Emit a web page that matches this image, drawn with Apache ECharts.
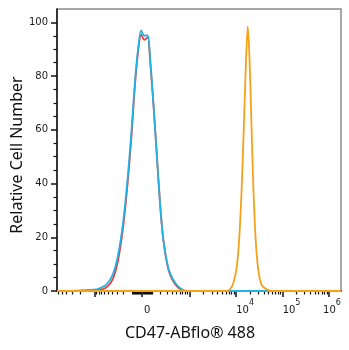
<!DOCTYPE html>
<html>
<head>
<meta charset="utf-8">
<script src="https://cdn.jsdelivr.net/npm/echarts@6/dist/echarts.min.js"></script>
<style>
  html, body { margin: 0; padding: 0; background: #fff; }
  #chart { width: 349px; height: 350px; }
</style>
</head>
<body>
<div id="chart"></div>
<script>
// Biexponential display scale: position = asinh(v / W) / ln(10)
const BIEX_W = 190;
function biex(v) { return Math.asinh(v / BIEX_W) / Math.LN10; }

// Axis range in display units
const X_MIN = -1.83;
const X_MAX = 4.28;
const Y_MIN = 0;
const Y_MAX = 105;

// Histogram traces: bin positions (display units) and relative counts
const isotypeX = [-1.83, -0.974, -0.759, -0.617, -0.510, -0.402, -0.295, -0.222, -0.151, -0.080, -0.022, 0.049, 0.123, 0.172, 0.243, 0.316, 0.387, 0.458, 0.566, 0.673, 0.781, 0.88, 0.94, 4.28];
const isotypeY = [0, 0.3, 1.5, 5, 12, 24.5, 43, 59, 77, 90, 95.5, 93.5, 94.5, 86, 70, 51, 32.6, 19, 8, 3.5, 1.2, 0.3, 0, 0];

const blankX = [-1.83, -0.98, -0.759, -0.617, -0.510, -0.402, -0.295, -0.222, -0.151, -0.080, -0.022, 0.049, 0.123, 0.172, 0.243, 0.316, 0.387, 0.458, 0.566, 0.673, 0.781, 0.88, 0.94, 4.28];
const blankY = [0, 0.6, 2.6, 6.8, 14, 26.4, 45, 61, 78.4, 91, 97, 95, 95.2, 87, 70, 51, 32.6, 19, 8.5, 4.2, 1.6, 0.4, 0, 0];

const stainedX = [-1.83, 1.80, 1.892, 1.963, 2.037, 2.092, 2.144, 2.194, 2.237, 2.273, 2.308, 2.351, 2.394, 2.445, 2.501, 2.574, 2.682, 2.80, 4.28];
const stainedY = [0, 0, 0.6, 2.9, 9, 20, 38.8, 63.6, 86, 98.5, 88.4, 63.6, 38.8, 19, 7.8, 2.2, 0.6, 0, 0];

// Tick values (fluorescence intensity)
const majorTickValues = [-1000, 0, 1000, 1e4, 1e5, 1e6];
const labelValues = [0, 1e4, 1e5, 1e6];
const labelTexts = ['0', '10|4', '10|5', '10|6'];
const yTickValues = [0, 20, 40, 60, 80, 100];
const yMinorValues = [5, 10, 15, 25, 30, 35, 45, 50, 55, 65, 70, 75, 85, 90, 95];

// Minor ticks: decades on both sides of zero, plus the linear zone near zero
const minorTickValues = [];
[10, 100, 1000, 1e4, 1e5].forEach(function (dec) {
  for (let k = 2; k <= 9; k++) {
    minorTickValues.push(k * dec);
    if (dec <= 1000) minorTickValues.push(-k * dec);
  }
});
minorTickValues.push(10, -10, 100, -100);

const inRange = function (p) { return p >= X_MIN && p <= X_MAX; };
const majorPos = majorTickValues.map(biex).filter(inRange);
const minorPos = minorTickValues.map(biex).filter(inRange);
const labelPos = labelValues.map(biex);

function toPairs(xs, ys) { return xs.map(function (x, i) { return [x, ys[i]]; }); }

function labelFor(pos) {
  let best = 0;
  labelPos.forEach(function (p, i) { if (Math.abs(p - pos) < Math.abs(labelPos[best] - pos)) best = i; });
  const t = labelTexts[best];
  if (t === '0') return '{pad0|}{b|0}';
  const parts = t.split('|');
  const pad = parts[1] === '6' ? '{pad6|}' : '{pad|}';
  return pad + '{b|' + parts[0] + '}{s|' + parts[1] + '}';
}

const chart = echarts.init(document.getElementById('chart'), null, { renderer: 'canvas' });

const lineStyleBase = { width: 1.8 };

chart.setOption({
  animation: false,
  backgroundColor: '#ffffff',
  grid: {
    left: 57, right: 8, top: 9, bottom: 59,
    outerBoundsMode: 'none', containLabel: false,
    show: true, borderColor: '#8a8a8a', borderWidth: 1.5, backgroundColor: 'transparent'
  },
  xAxis: [
    {
      type: 'value', min: X_MIN, max: X_MAX, position: 'bottom',
      axisLine: { show: true, onZero: false, lineStyle: { color: '#111', width: 1.5 } },
      axisTick: { show: true, inside: false, length: 6, customValues: majorPos, lineStyle: { color: '#111', width: 1.5 } },
      axisLabel: {
        show: true, margin: 8, customValues: labelPos,
        formatter: function (v) { return labelFor(v); },
        rich: {
          b: { fontFamily: 'DejaVu Sans', fontSize: 10, color: '#1a1a1a', lineHeight: 16, verticalAlign: 'bottom' },
          s: { fontFamily: 'DejaVu Sans', fontSize: 8, color: '#1a1a1a', lineHeight: 14, verticalAlign: 'top' },
          pad: { width: 18, height: 1 },
          pad6: { width: 6, height: 1 },
          pad0: { width: 10, height: 1 }
        }
      },
      splitLine: { show: false },
      name: 'CD47-ABflo® 488',
      nameLocation: 'middle',
      nameGap: 34,
      nameMoveOverlap: false,
      nameTextStyle: { fontFamily: 'Noto Sans', fontSize: 16, color: '#111', padding: [0, 18, 0, 0] }
    },
    {
      type: 'value', min: X_MIN, max: X_MAX, position: 'bottom',
      axisLine: { show: false, onZero: false },
      axisTick: { show: true, inside: false, length: 3.5, customValues: minorPos, lineStyle: { color: '#111', width: 1.2 } },
      axisLabel: { show: false },
      splitLine: { show: false }
    }
  ],
  yAxis: [
    {
      type: 'value', min: Y_MIN, max: Y_MAX, position: 'left',
      axisLine: { show: true, onZero: false, lineStyle: { color: '#111', width: 1.5 } },
      axisTick: { show: true, inside: false, length: 6, customValues: yTickValues, lineStyle: { color: '#111', width: 1.5 } },
      axisLabel: { show: true, margin: 9, customValues: yTickValues, fontFamily: 'DejaVu Sans', fontSize: 10, color: '#1a1a1a' },
      splitLine: { show: false },
      name: 'Relative Cell Number',
      nameLocation: 'middle',
      nameGap: 32,
      nameMoveOverlap: false,
      nameTextStyle: { fontFamily: 'Noto Sans', fontSize: 16, color: '#111', padding: [0, 10, 0, 0] }
    },
    {
      type: 'value', min: Y_MIN, max: Y_MAX, position: 'left',
      axisLine: { show: false, onZero: false },
      axisTick: { show: true, inside: false, length: 3.5, customValues: yMinorValues, lineStyle: { color: '#111', width: 1.2 } },
      axisLabel: { show: false },
      splitLine: { show: false }
    }
  ],
  series: [
    {
      name: 'Isotype', type: 'line', data: toPairs(isotypeX, isotypeY),
      showSymbol: false, smooth: 0.25, z: 2,
      lineStyle: Object.assign({ color: '#e8403a' }, lineStyleBase)
    },
    {
      name: 'Blank', type: 'line', data: toPairs(blankX, blankY),
      showSymbol: false, smooth: 0.25, z: 3,
      lineStyle: Object.assign({ color: '#21b3e6' }, lineStyleBase)
    },
    {
      name: 'CD47', type: 'line', data: toPairs(stainedX, stainedY),
      showSymbol: false, smooth: 0.25, z: 4,
      lineStyle: Object.assign({ color: '#f5a11a' }, lineStyleBase)
    }
  ]
});
</script>
</body>
</html>
